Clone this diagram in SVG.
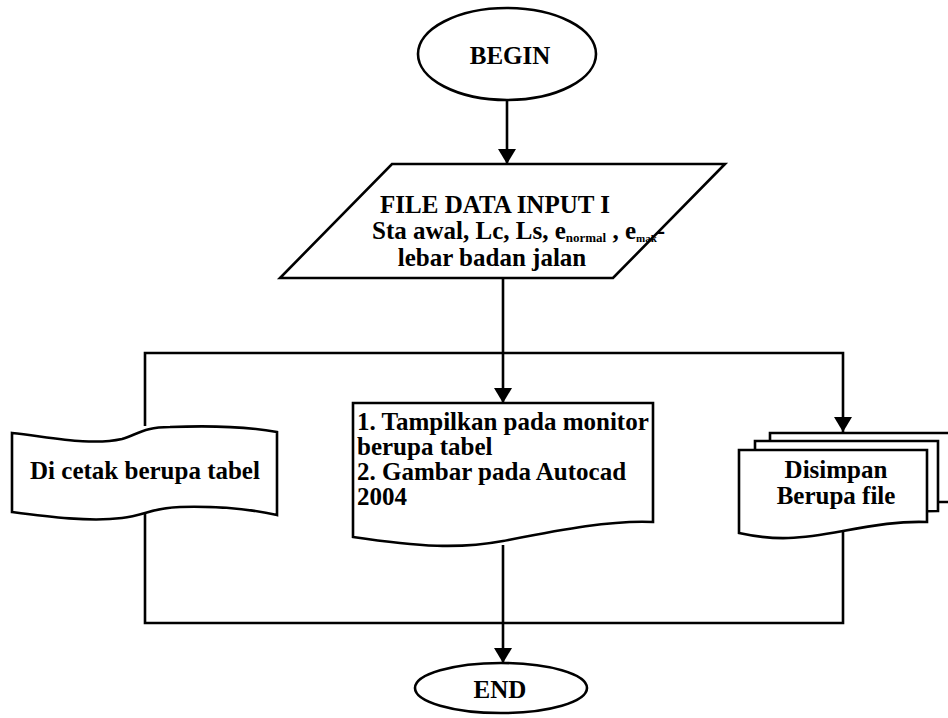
<svg xmlns="http://www.w3.org/2000/svg" width="948" height="718" viewBox="0 0 948 718">
<style>
.s{fill:#fff;stroke:#000;stroke-width:2.6;stroke-linejoin:miter}
.c{fill:none;stroke:#000;stroke-width:2.6}
text{font-family:"Liberation Serif","Times New Roman",serif;font-weight:bold;font-size:25px;fill:#000}
.m{text-anchor:middle}
</style>
<defs>
<marker id="ah" viewBox="0 0 15 18" refX="15" refY="9" markerWidth="15" markerHeight="18" markerUnits="userSpaceOnUse" orient="auto">
<path d="M0,0 L15,9 L0,18 z" fill="#000"/>
</marker>
</defs>
<rect width="948" height="718" fill="#fff"/>
<g id="connectors">
<line class="c" x1="507" y1="100" x2="507" y2="164" marker-end="url(#ah)"/>
<line class="c" x1="503" y1="278" x2="503" y2="403" marker-end="url(#ah)"/>
<polyline class="c" points="145,426 145,353 843,353 843,432" marker-end="url(#ah)"/>
<polyline class="c" points="145,512 145,623 843,623 843,532"/>
<line class="c" x1="503" y1="545" x2="503" y2="663" marker-end="url(#ah)"/>
</g>
<g id="begin">
<ellipse class="s" cx="507" cy="54" rx="89" ry="46"/>
<text class="m" x="510" y="64">BEGIN</text>
</g>
<g id="input">
<polygon class="s" points="392,164 725,164 613,278 280,278"/>
<text class="m" x="495" y="213">FILE DATA INPUT I</text>
<text x="372" y="239" font-size="19.5">Sta awal, Lc, Ls, e<tspan font-size="13" dy="3">normal</tspan><tspan dy="-3"> , e</tspan><tspan font-size="11" dy="3">mak</tspan><tspan dy="-3">-</tspan></text>
<text class="m" x="492" y="266">lebar badan jalan</text>
</g>
<g id="print">
<path class="s" d="M12,433 C50,437 90,446 122,439 C138,434 145,427 170,427 C220,425 255,428 277,432 L277,515 C255,510 220,506 180,507 C152,508 145,515 122,518 C90,522 50,517 12,512 Z"/>
<text class="m" x="145" y="479">Di cetak berupa tabel</text>
</g>
<g id="display">
<path class="s" d="M353,403 H653 V522 C610,520 560,530 503,541 C460,549 420,547 353,537 Z"/>
<text x="357" y="430">1. Tampilkan pada monitor</text>
<text x="357" y="455">berupa tabel</text>
<text x="357" y="480">2. Gambar pada Autocad</text>
<text x="357" y="505">2004</text>
</g>
<g id="save">
<path class="s" d="M770,433 H952 V502 H770 Z"/>
<path class="s" d="M755,441 H938 V511 C900,511 880,515 858,520 C820,528 790,530 755,525 Z"/>
<path class="s" d="M739,450 H927 V522 C900,521 875,525 843,531 C800,539 775,541 739,533 Z"/>
<text class="m" x="836" y="478">Disimpan</text>
<text class="m" x="836" y="504">Berupa file</text>
</g>
<g id="end">
<ellipse class="s" cx="501" cy="688" rx="86" ry="25"/>
<text class="m" x="500" y="698">END</text>
</g>
</svg>
